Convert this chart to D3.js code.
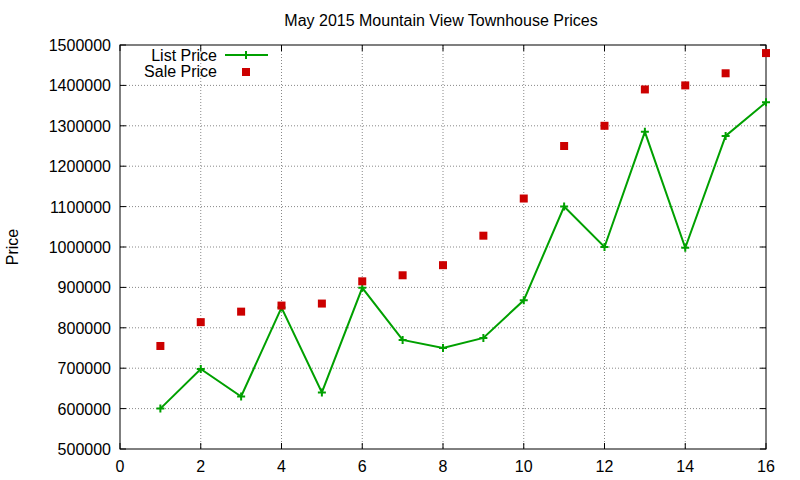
<!DOCTYPE html><html><head><meta charset="utf-8">
<script src="https://cdn.jsdelivr.net/npm/d3@7"></script>
<style>body{margin:0;background:#fff}text{font-family:"Liberation Sans",Arial,sans-serif;font-size:16px;fill:#000}</style>
</head><body><svg id="c" width="800" height="480"></svg><script>
const xs=[1,2,3,4,5,6,7,8,9,10,11,12,13,14,15,16];
const listPrice=[600000,698000,630000,850000,640000,899000,770000,750000,775000,868000,1100000,1000000,1285000,998000,1275000,1358000];
const salePrice=[755000,814000,840000,855000,860000,915000,930000,955000,1028000,1120000,1250000,1300000,1390000,1400000,1430000,1480000];
const xTicks=[0,2,4,6,8,10,12,14,16];
const yTicks=[500000,600000,700000,800000,900000,1000000,1100000,1200000,1300000,1400000,1500000];
const svg=d3.select("#c");
const L=120,R=766,T=45,B=449;
const x=d3.scaleLinear().domain([0,16]).range([L,R]);
const y=d3.scaleLinear().domain([500000,1500000]).range([B,T]);
const g=svg.append("g");
xTicks.slice(1,-1).forEach(v=>g.append("line").attr("x1",x(v)).attr("x2",x(v)).attr("y1",T).attr("y2",B).attr("stroke","#888").attr("stroke-dasharray","1,2"));
yTicks.slice(1,-1).forEach(v=>g.append("line").attr("x1",L).attr("x2",R).attr("y1",y(v)).attr("y2",y(v)).attr("stroke","#888").attr("stroke-dasharray","1,2"));
xTicks.forEach(v=>{g.append("line").attr("x1",x(v)).attr("x2",x(v)).attr("y1",B).attr("y2",B-6).attr("stroke","#000");g.append("line").attr("x1",x(v)).attr("x2",x(v)).attr("y1",T).attr("y2",T+6).attr("stroke","#000");
 g.append("text").attr("x",x(v)).attr("y",B+23).attr("text-anchor","middle").text(v);});
yTicks.forEach(v=>{g.append("line").attr("x1",L).attr("x2",L+6).attr("y1",y(v)).attr("y2",y(v)).attr("stroke","#000");g.append("line").attr("x1",R).attr("x2",R-6).attr("y1",y(v)).attr("y2",y(v)).attr("stroke","#000");
 g.append("text").attr("x",L-9).attr("y",y(v)+6).attr("text-anchor","end").text(v);});
g.append("rect").attr("x",L).attr("y",T).attr("width",R-L).attr("height",B-T).attr("fill","none").attr("stroke","#000");
svg.append("text").attr("x",441).attr("y",26).attr("text-anchor","middle").text("May 2015 Mountain View Townhouse Prices");
svg.append("text").attr("transform","translate(18,247) rotate(-90)").attr("text-anchor","middle").text("Price");
const ln=d3.line().x((d,i)=>x(xs[i])).y(d=>y(d));
svg.append("path").attr("d",ln(listPrice)).attr("fill","none").attr("stroke","#00a000").attr("stroke-width",2);
const plus=(px,py)=>svg.append("path").attr("d",`M${px-4},${py}H${px+4}M${px},${py-4}V${py+4}`).attr("stroke","#00a000").attr("stroke-width",2);
listPrice.forEach((d,i)=>plus(x(xs[i]),y(d)));
salePrice.forEach((d,i)=>svg.append("rect").attr("x",x(xs[i])-4).attr("y",y(d)-4).attr("width",8).attr("height",8).attr("fill","#cc0000"));
svg.append("text").attr("x",217).attr("y",61).attr("text-anchor","end").text("List Price");
svg.append("line").attr("x1",225).attr("x2",268).attr("y1",55).attr("y2",55).attr("stroke","#00a000").attr("stroke-width",2);
plus(246,55);
svg.append("text").attr("x",217).attr("y",77).attr("text-anchor","end").text("Sale Price");
svg.append("rect").attr("x",242).attr("y",68).attr("width",8).attr("height",8).attr("fill","#cc0000");
</script></body></html>
